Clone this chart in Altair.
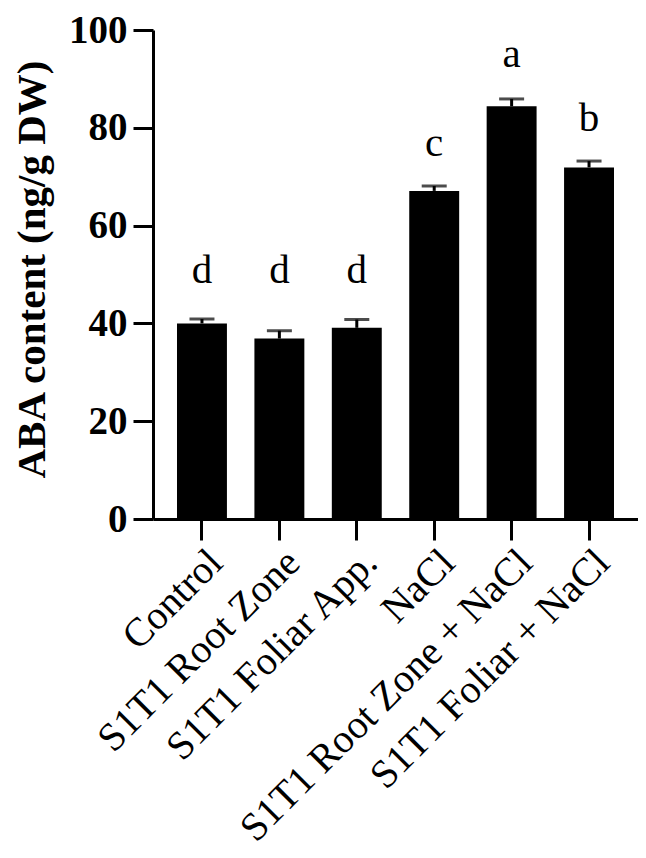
import altair as alt
import pandas as pd

categories = ["Control", "S1T1 Root Zone", "S1T1 Foliar App.", "NaCl",
              "S1T1 Root Zone + NaCl", "S1T1 Foliar + NaCl"]
means = [40.0, 36.9, 39.1, 67.1, 84.4, 71.9]
errors = [0.9, 1.6, 1.7, 1.0, 1.5, 1.3]
letters = ["d", "d", "d", "c", "a", "b"]
letter_pos = [48.3, 48.3, 48.3, 74.2, 92.4, 79.3]

df = pd.DataFrame({
    "cat": categories,
    "mean": means,
    "top": [m + e for m, e in zip(means, errors)],
    "letter": letters,
    "lp": letter_pos,
})

FONT = "Liberation Serif"

xenc = alt.X("cat:N", sort=categories,
             scale=alt.Scale(paddingInner=0.355, paddingOuter=0.31),
             axis=alt.Axis(title=None, labelAngle=-45, labelFont=FONT, labelFontSize=40,
                           labelColor="black", domainWidth=3, domainColor="black",
                           tickWidth=3, tickSize=21, tickColor="black", labelPadding=2,
                           labelLimit=0))
yenc = alt.Y("mean:Q", scale=alt.Scale(domain=[0, 100]),
             axis=alt.Axis(values=[0, 20, 40, 60, 80, 100], title="ABA content (ng/g DW)",
                           titleFont=FONT, titleFontSize=41, titleFontWeight="bold",
                           titleColor="black", titleX=-121, titleY=239, titleAngle=-90,
                           titleAlign="center", titleBaseline="middle",
                           labelFont=FONT, labelFontSize=39, labelFontWeight="bold",
                           labelColor="black", labelPadding=6,
                           domainWidth=3, domainColor="black", tickWidth=3, tickSize=20,
                           tickColor="black", grid=False))

xs = alt.X("cat:N", sort=categories)

bars = alt.Chart(df).mark_bar(color="black").encode(x=xenc, y=yenc)
rule = alt.Chart(df).mark_rule(color="black", strokeWidth=3).encode(x=xs, y="mean:Q", y2="top:Q")
cap = alt.Chart(df).mark_tick(color="black", thickness=3, size=25).encode(x=xs, y="top:Q")
text = alt.Chart(df).mark_text(font=FONT, fontSize=41, baseline="alphabetic", color="black").encode(
    x=xs, y="lp:Q", text="letter:N")

chart = alt.layer(bars, rule, cap, text).properties(
    width=485, height=489,
    autosize=alt.AutoSizeParams(type="none"),
    padding={"left": 145, "top": 22, "right": 0, "bottom": 331},
).configure_view(stroke=None).configure_axis(grid=False)

chart.save("out.html", embed_options={"renderer": "svg", "actions": False})
